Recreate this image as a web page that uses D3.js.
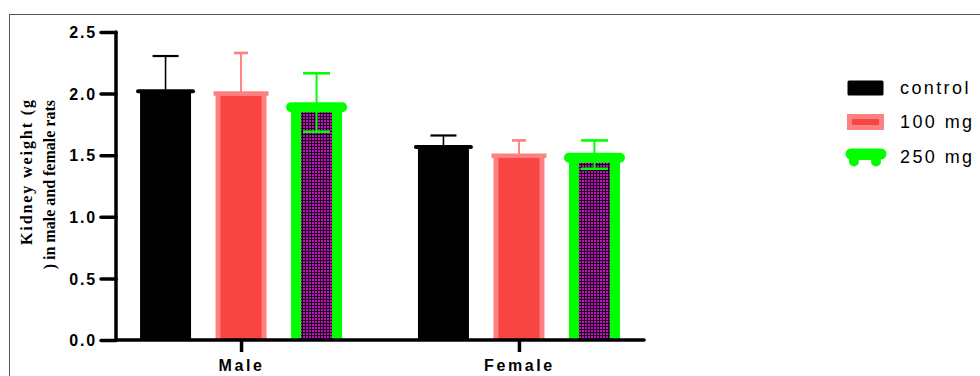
<!DOCTYPE html>
<html>
<head>
<meta charset="utf-8">
<script src="https://cdn.jsdelivr.net/npm/d3@7"></script>
<style>
  html, body { margin: 0; padding: 0; background: #fff; }
  svg { display: block; }
</style>
</head>
<body>
<svg id="chart" width="980" height="376"></svg>
<script>
// ---- data ----
const groups = ["Male", "Female"];
const series = ["control", "100 mg", "250 mg"];
const meanMale = [2.02, 2.00, 1.89];
const meanFemale = [1.567, 1.495, 1.48];
const errUpMale = [0.285, 0.33, 0.275];
const errUpFemale = [0.093, 0.125, 0.14];
const errDownMale = [0.285, 0.33, 0.20];
const errDownFemale = [0.093, 0.125, 0.09];
const yTicks = [0, 0.5, 1.0, 1.5, 2.0, 2.5];
const yTitle = ["Kidney weight (g", ") in male and female rats"];

// ---- styles (not data) ----
const styles = [
  { fill: "#000000", stroke: "#000000", side: 3,  top: 4,  ext: 2, round: true,  err: "#000000", errW: 1.6, cap: 26, showLower: false },
  { fill: "#f94444", stroke: "#ff8080", side: 5,  top: 4.5, ext: 2, round: false, err: "#ff8080", errW: 2,   cap: 14, showLower: false },
  { fill: "url(#grid)", stroke: "#00ff00", side: 10, top: 10, ext: 0, round: true, err: "#00ff00", errW: 2,   cap: 27, showLower: true }
];

const rows = groups.map((g, gi) => series.map((s, si) => ({
  group: g, series: s, si,
  value: gi === 0 ? meanMale[si] : meanFemale[si],
  up: gi === 0 ? errUpMale[si] : errUpFemale[si],
  down: gi === 0 ? errDownMale[si] : errDownFemale[si]
}))).flat();

const svg = d3.select("#chart");
const defs = svg.append("defs");
const pat = defs.append("pattern").attr("id", "grid").attr("patternUnits", "userSpaceOnUse")
  .attr("width", 3).attr("height", 3);
pat.append("rect").attr("width", 3).attr("height", 3).attr("fill", "#180018");
pat.append("rect").attr("width", 2).attr("height", 2).attr("fill", "#c010c0");

// frame
svg.append("rect").attr("x", 9.5).attr("y", 14.5).attr("width", 1000).attr("height", 400)
  .attr("fill", "none").attr("stroke", "#555").attr("stroke-width", 1);

const axisLeftX = 116, axisRightX = 644;
const y = d3.scaleLinear().domain([0, 2.5]).range([340, 32]);
const x0 = d3.scalePoint().domain(groups).range([axisLeftX, axisRightX]).padding(0.45);
const x1 = d3.scaleBand().domain(series).range([-125.5, 125.5]).paddingInner(0.3245).paddingOuter(0.3245);

// bars
const barG = svg.append("g");
rows.forEach(d => {
  const st = styles[d.si];
  const bx = x0(d.group) + x1(d.series);
  const bw = x1.bandwidth();
  const yt = y(d.value), yb = y(0);
  const g = barG.append("g");
  g.append("rect").attr("x", bx).attr("y", yt).attr("width", bw).attr("height", yb - yt)
    .attr("fill", st.stroke);
  g.append("rect").attr("x", bx + st.side).attr("y", yt + st.top / 2)
    .attr("width", bw - 2 * st.side).attr("height", Math.max(0, yb - yt - st.top / 2))
    .attr("fill", st.fill);
  g.append("line").attr("x1", bx - st.ext).attr("x2", bx + bw + st.ext)
    .attr("y1", yt).attr("y2", yt)
    .attr("stroke", st.stroke).attr("stroke-width", st.top)
    .attr("stroke-linecap", st.round ? "round" : "butt");
});

// error bars
const errG = svg.append("g");
rows.forEach(d => {
  const st = styles[d.si];
  const cx = x0(d.group) + x1(d.series) + x1.bandwidth() / 2;
  const yt = y(d.value);
  const yu = y(d.value + d.up);
  errG.append("line").attr("x1", cx).attr("x2", cx).attr("y1", yt).attr("y2", yu)
    .attr("stroke", st.err).attr("stroke-width", st.errW);
  errG.append("line").attr("x1", cx - st.cap / 2).attr("x2", cx + st.cap / 2).attr("y1", yu).attr("y2", yu)
    .attr("stroke", st.err).attr("stroke-width", st.errW + 0.6);
  if (st.showLower) {
    const yl = y(d.value - d.down);
    errG.append("line").attr("x1", cx).attr("x2", cx).attr("y1", yt).attr("y2", yl)
      .attr("stroke", st.err).attr("stroke-width", st.errW);
    errG.append("line").attr("x1", cx - st.cap / 2).attr("x2", cx + st.cap / 2).attr("y1", yl).attr("y2", yl)
      .attr("stroke", st.err).attr("stroke-width", st.errW + 0.6);
  }
});

// y axis
const yAxis = svg.append("g").attr("transform", `translate(${axisLeftX},0)`)
  .call(d3.axisLeft(y).tickValues(yTicks).tickFormat(d3.format(".1f")).tickSize(15).tickPadding(4));
yAxis.select(".domain").remove();
yAxis.append("line").attr("x1", 0).attr("x2", 0).attr("y1", y(2.5)).attr("y2", y(0))
  .attr("stroke", "#000").attr("stroke-width", 3.5).attr("stroke-linecap", "round");
yAxis.selectAll(".tick line").attr("stroke", "#000").attr("stroke-width", 3.5).attr("stroke-linecap", "round");
yAxis.selectAll(".tick text").attr("fill", "#000")
  .style("font-family", "Arial, 'Liberation Sans', sans-serif").style("font-weight", "bold")
  .style("font-size", "16px").style("letter-spacing", "1.8px").attr("dy", "0.36em");

// x axis
const xAxis = svg.append("g").attr("transform", `translate(0,${y(0)})`)
  .call(d3.axisBottom(x0).tickSize(12).tickPadding(8));
xAxis.select(".domain").remove();
xAxis.append("line").attr("x1", axisLeftX).attr("x2", axisRightX).attr("y1", 0).attr("y2", 0)
  .attr("stroke", "#000").attr("stroke-width", 3.5).attr("stroke-linecap", "round");
xAxis.selectAll(".tick line").attr("stroke", "#000").attr("stroke-width", 3.5);
xAxis.selectAll(".tick text").attr("fill", "#000")
  .style("font-family", "Arial, 'Liberation Sans', sans-serif").style("font-weight", "bold")
  .style("font-size", "16px").style("letter-spacing", "2.6px");

// y title
const titleLens = [145, null];
const titleX = [32, 55];
yTitle.forEach((t, i) => {
  const tx = svg.append("text").attr("transform", `translate(${titleX[i]},100) rotate(-90)`)
    .attr("text-anchor", "end")
    .style("font-family", "'Liberation Serif', 'Times New Roman', serif").style("font-weight", "bold")
    .style("font-size", "16px").attr("fill", "#000").text(t);
  if (titleLens[i]) tx.attr("textLength", titleLens[i]).attr("lengthAdjust", "spacing");
});

// legend
const legend = svg.append("g");
const legY = [88, 122, 157];
series.forEach((s, i) => {
  const st = styles[i];
  const g = legend.append("g").attr("transform", `translate(0,${legY[i]})`);
  if (i === 0) {
    g.append("rect").attr("x", 849).attr("y", -6).attr("width", 33).attr("height", 12)
      .attr("fill", st.fill).attr("stroke", st.stroke).attr("stroke-width", 3).attr("stroke-linejoin", "round");
  } else if (i === 1) {
    g.append("rect").attr("x", 849.5).attr("y", -5.5).attr("width", 32).attr("height", 11)
      .attr("fill", st.fill).attr("stroke", st.stroke).attr("stroke-width", 5);
  } else {
    g.append("line").attr("x1", 851).attr("x2", 881).attr("y1", -3).attr("y2", -3)
      .attr("stroke", st.stroke).attr("stroke-width", 11).attr("stroke-linecap", "round");
    g.append("rect").attr("x", 849).attr("y", -3).attr("width", 32).attr("height", 6).attr("fill", st.stroke);
    [854, 876].forEach(lx => g.append("circle").attr("cx", lx).attr("cy", 4.5).attr("r", 5).attr("fill", st.stroke));
  }
  g.append("text").attr("x", 900).attr("y", 0).attr("dy", "0.36em")
    .style("font-family", "Arial, 'Liberation Sans', sans-serif")
    .style("font-size", "18px").style("letter-spacing", "2.4px").attr("fill", "#000").text(s);
});
</script>
</body>
</html>
